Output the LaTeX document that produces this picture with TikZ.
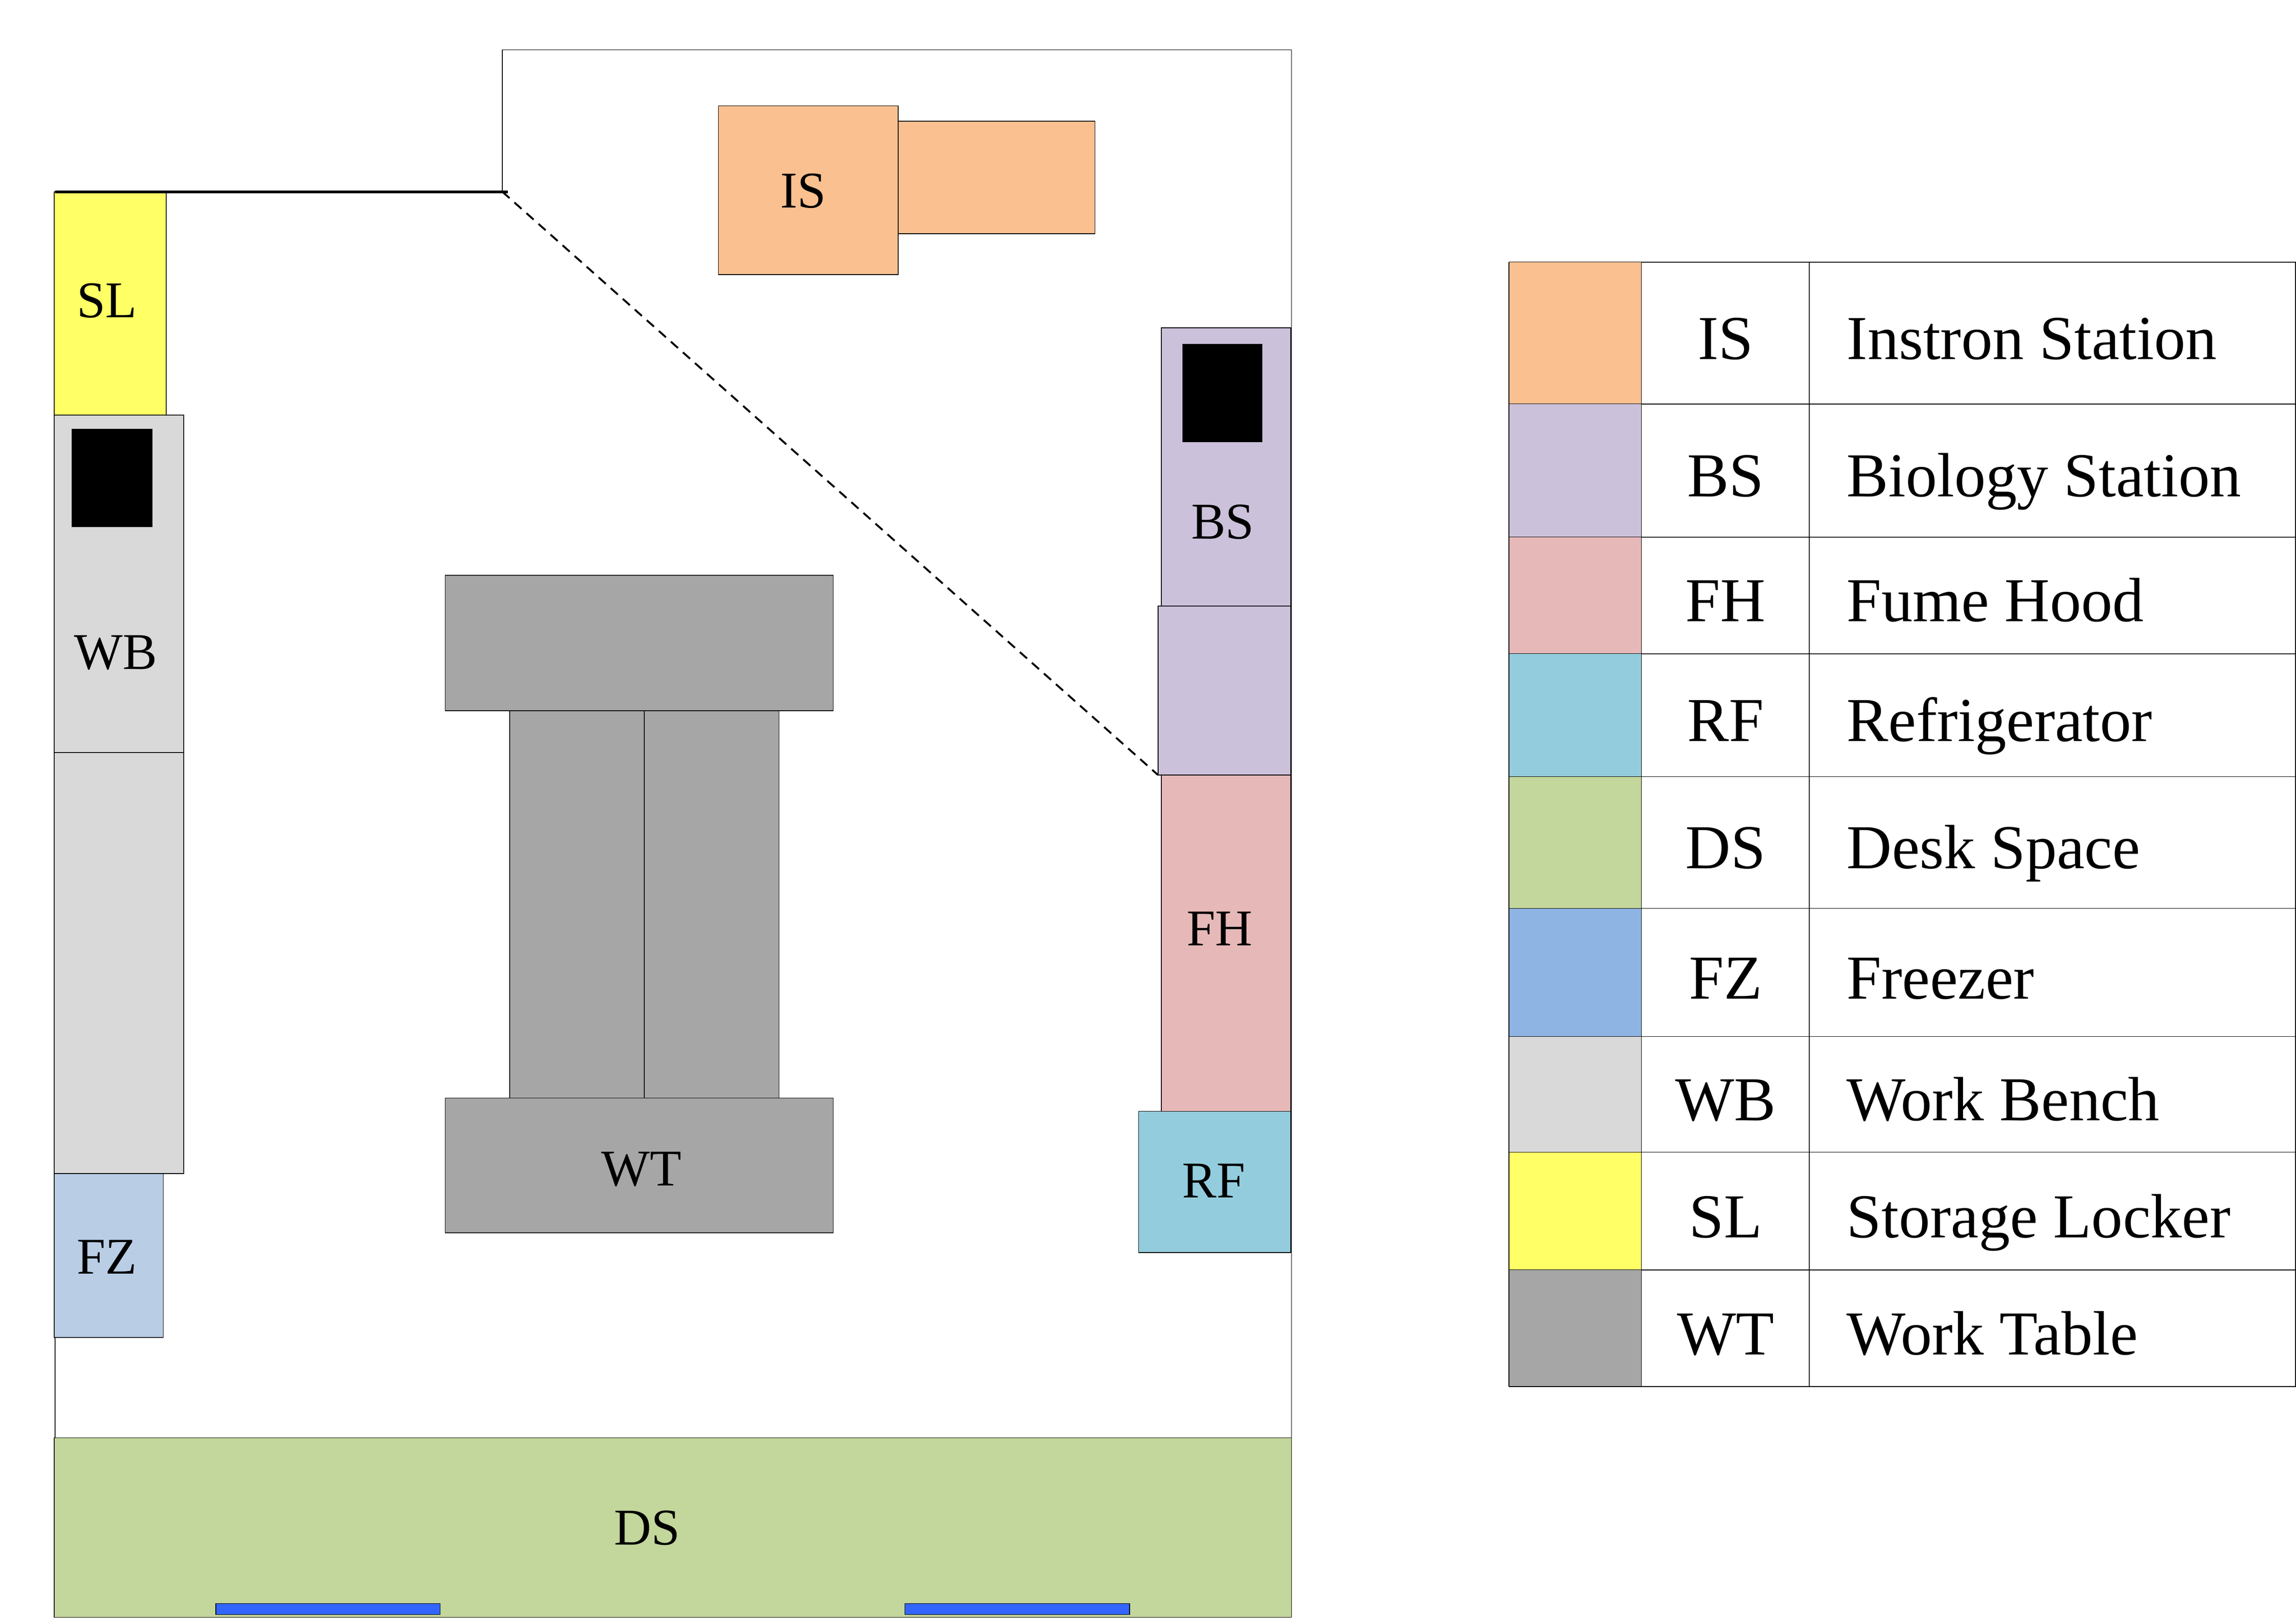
\documentclass[tikz,border=0pt]{standalone}
\usepackage{fontspec}
\setmainfont{Liberation Serif}
\definecolor{cIS}{HTML}{FAC090}
\definecolor{cBS}{HTML}{CCC1DA}
\definecolor{cFH}{HTML}{E6B9B8}
\definecolor{cRF}{HTML}{93CDDD}
\definecolor{cDS}{HTML}{C3D69B}
\definecolor{cFZ}{HTML}{8EB4E3}
\definecolor{cFZp}{HTML}{B9CDE5}
\definecolor{cWB}{HTML}{D9D9D9}
\definecolor{cSL}{HTML}{FFFF66}
\definecolor{cWT}{HTML}{A6A6A6}
\definecolor{cbar}{HTML}{3366FF}
\tikzset{
  thinline/.style={draw=black,line width=0.5pt},
  wall/.style={draw=black,line width=0.5pt},
  heavywall/.style={draw=black,line width=1.8pt},
  dashwall/.style={draw=black,line width=1.3pt,dash pattern=on 6.5pt off 4.5pt},
  plantext/.style={anchor=base,inner sep=0pt,font=\fontsize{35.2}{36}\selectfont},
  legendtext/.style={anchor=base,inner sep=0pt,font=\fontsize{42.7}{43}\selectfont},
  legendname/.style={anchor=base west,inner sep=0pt,font=\fontsize{42.7}{43}\selectfont}
}
\newcommand{\legrow}[6]{%
  \fill[#3] (1030.5,#1) rectangle (1121,#2);
  \node[legendtext] (abbr#4) at (1178.5,#6+14.3) {#4};
  \node[legendname] (name#4) at (1261,#6+14.3) {#5};
  \draw[thinline] (1030.5,#2) -- (1568,#2);
}
\begin{document}
\begin{tikzpicture}[x=1pt,y=-1pt]
\useasboundingbox (0,0) rectangle (1568,1104.93);
% walls
\coordinate (wallA) at (37.7,131);
\coordinate (wallB) at (343.1,131);
\coordinate (wallC) at (343.1,34);
\coordinate (wallD) at (882,34);
\coordinate (wallE) at (882,982);
\coordinate (wallF) at (37.7,982);
\coordinate (doorEnd) at (790.8,529.3);
\draw[wall] (wallB) -- (wallC) -- (wallD) -- (wallE);
\draw[wall] (wallA) -- (wallF);
% furniture
\draw[thinline,fill=cIS] (613.3,82.7) rectangle (747.8,159.6);
\draw[thinline,fill=cIS] (490.6,72.3) rectangle (613.3,187.5);
\draw[thinline,fill=cSL] (37,131) rectangle (113.5,283.5);
\draw[thinline,fill=cWB] (37,283.5) rectangle (125.5,514);
\draw[thinline,fill=cWB] (37,514) rectangle (125.5,801.5);
\fill[black] (49,293) rectangle (104,360);
\draw[thinline,fill=cFZp] (37,801.5) rectangle (111.5,913.5);
\draw[thinline,fill=cWT] (348,485.5) rectangle (440,750);
\draw[thinline,fill=cWT] (440,485.5) rectangle (532,750);
\draw[thinline,fill=cWT] (304,393) rectangle (569,485.5);
\draw[thinline,fill=cWT] (304,750) rectangle (569,842);
\draw[thinline,fill=cBS] (793,224) rectangle (881.5,414);
\draw[thinline,fill=cBS] (790.8,414) rectangle (881.5,529.3);
\fill[black] (807.5,235) rectangle (862,302);
\draw[thinline,fill=cFH] (793,529.3) rectangle (881.5,759);
\draw[thinline,fill=cRF] (777.5,759) rectangle (881.5,855.5);
\draw[thinline,fill=cDS] (37,982) rectangle (882,1104.6);
\draw[thinline,fill=cbar] (147.3,1095.2) rectangle (300.6,1102.8);
\draw[thinline,fill=cbar] (618,1095.2) rectangle (771.5,1102.8);
% door lines
\draw[heavywall] (wallA) -- ([xshift=3.6pt]wallB);
\draw[dashwall] (wallB) -- (doorEnd);
% plan labels
\node[plantext] (lIS) at (548.5,142) {IS};
\node[plantext] (lSL) at (73,217) {SL};
\node[plantext] (lWB) at (79,457) {WB};
\node[plantext] (lBS) at (835,368) {BS};
\node[plantext] (lFH) at (833,646) {FH};
\node[plantext] (lWT) at (438,810) {WT};
\node[plantext] (lRF) at (829,818) {RF};
\node[plantext] (lFZ) at (73,870) {FZ};
\node[plantext] (lDS) at (442,1055) {DS};
% legend
\draw[thinline] (1030.5,179) -- (1568,179);
\legrow{179}{276}{cIS}{IS}{Instron Station}{231}
\legrow{276}{367}{cBS}{BS}{Biology Station}{325}
\legrow{367}{446.5}{cFH}{FH}{Fume Hood}{410}
\legrow{446.5}{530.5}{cRF}{RF}{Refrigerator}{492}
\legrow{530.5}{620.5}{cDS}{DS}{Desk Space}{579}
\legrow{620.5}{708}{cFZ}{FZ}{Freezer}{668}
\legrow{708}{787}{cWB}{WB}{Work Bench}{751}
\legrow{787}{867.5}{cSL}{SL}{Storage Locker}{831}
\legrow{867.5}{947}{cWT}{WT}{Work Table}{911}
\draw[thinline] (1030.5,179) -- (1030.5,947);
\draw[thinline] (1121,179) -- (1121,947);
\draw[thinline] (1235.5,179) -- (1235.5,947);
\draw[thinline] (1567.7,179) -- (1567.7,947);
\end{tikzpicture}
\end{document}
